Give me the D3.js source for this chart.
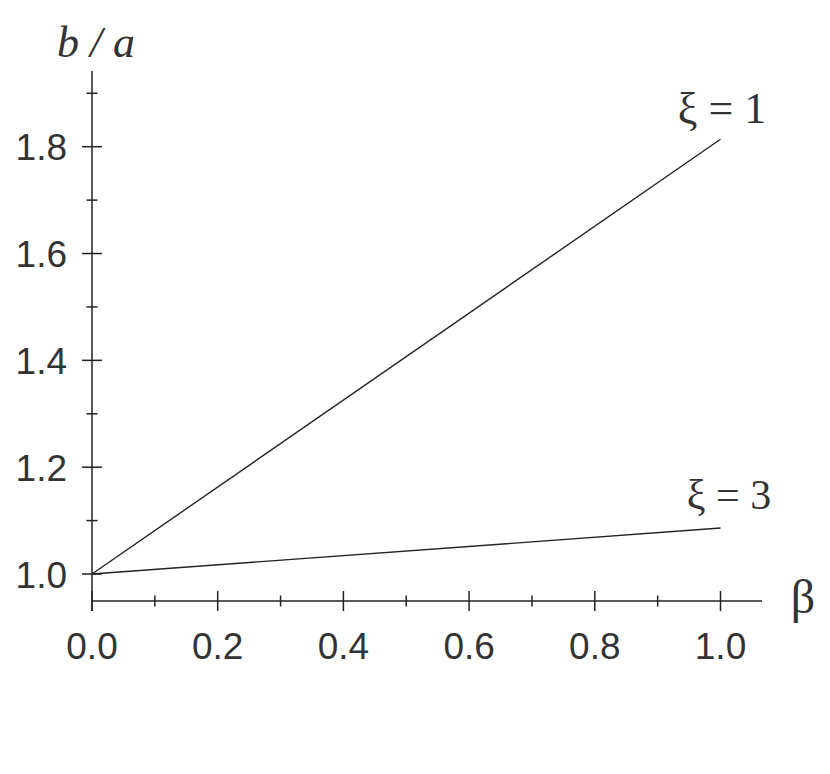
<!DOCTYPE html>
<html><head><meta charset="utf-8">
<script src="https://cdn.jsdelivr.net/npm/d3@7"></script>
<style>body{margin:0;background:#fff}</style>
</head><body>
<script>
const betaValues = [0.0, 1.0];
const seriesXi1 = [1.0, 1.814];
const seriesXi3 = [1.0, 1.086];
const seriesLabels = ["ξ = 1", "ξ = 3"];
const xTicks = [0.0, 0.2, 0.4, 0.6, 0.8, 1.0];
const xMinorTicks = [0.1, 0.3, 0.5, 0.7, 0.9];
const yTicks = [1.0, 1.2, 1.4, 1.6, 1.8];
const yMinorTicks = [1.1, 1.3, 1.5, 1.7, 1.9];

const W = 830, H = 774;
const svg = d3.select("body").append("svg").attr("width", W).attr("height", H);
const x = d3.scaleLinear().domain([0, 1]).range([92, 720.5]);
const y = d3.scaleLinear().domain([1.0, 1.8]).range([574, 146.7]);
const xAxisY = y(0.9494);
const xEnd = 762, yTop = 71;
const ink = "#222";
const txt = "#333";
const sans = "'Liberation Sans', Arial, sans-serif";
const serif = "'Liberation Serif', 'Times New Roman', serif";

// axes lines
svg.append("line").attr("x1", x(0)).attr("x2", xEnd).attr("y1", xAxisY).attr("y2", xAxisY)
  .attr("stroke", ink).attr("stroke-width", 1.5);
svg.append("line").attr("x1", x(0)).attr("x2", x(0)).attr("y1", yTop).attr("y2", xAxisY + 10)
  .attr("stroke", ink).attr("stroke-width", 1.5);

// x ticks
svg.selectAll(".xt").data(xTicks).enter().append("line")
  .attr("x1", d => x(d)).attr("x2", d => x(d)).attr("y1", xAxisY - 10).attr("y2", xAxisY + 10)
  .attr("stroke", ink).attr("stroke-width", 1.5);
svg.selectAll(".xm").data(xMinorTicks).enter().append("line")
  .attr("x1", d => x(d)).attr("x2", d => x(d)).attr("y1", xAxisY - 5.5).attr("y2", xAxisY + 5.5)
  .attr("stroke", ink).attr("stroke-width", 1.5);
svg.selectAll(".xl").data(xTicks).enter().append("text")
  .attr("x", d => x(d)).attr("y", 659).attr("text-anchor", "middle")
  .attr("font-family", sans).attr("font-size", 37).attr("fill", txt)
  .text(d => d3.format(".1f")(d));

// y ticks
svg.selectAll(".yt").data(yTicks).enter().append("line")
  .attr("x1", x(0) - 10).attr("x2", x(0) + 10).attr("y1", d => y(d)).attr("y2", d => y(d))
  .attr("stroke", ink).attr("stroke-width", 1.5);
svg.selectAll(".ym").data(yMinorTicks).enter().append("line")
  .attr("x1", x(0) - 5.5).attr("x2", x(0) + 5.5).attr("y1", d => y(d)).attr("y2", d => y(d))
  .attr("stroke", ink).attr("stroke-width", 1.5);
svg.selectAll(".yl").data(yTicks).enter().append("text")
  .attr("x", 67).attr("y", d => y(d) + 13.5).attr("text-anchor", "end")
  .attr("font-family", sans).attr("font-size", 37).attr("fill", txt)
  .text(d => d3.format(".1f")(d));

// lines
const line = d3.line().x(d => x(d[0])).y(d => y(d[1]));
[seriesXi1, seriesXi3].forEach(s => {
  svg.append("path").datum(betaValues.map((b, i) => [b, s[i]]))
    .attr("d", line).attr("fill", "none").attr("stroke", ink).attr("stroke-width", 1.4);
});

// series labels
svg.append("text").attr("x", 722).attr("y", 123).attr("text-anchor", "middle")
  .attr("font-family", serif).attr("font-size", 44).attr("fill", txt).text(seriesLabels[0]);
svg.append("text").attr("x", 729).attr("y", 509).attr("text-anchor", "middle")
  .attr("font-family", serif).attr("font-size", 42).attr("fill", txt).text(seriesLabels[1]);

// axis titles
svg.append("text").attr("x", 803).attr("y", 613).attr("text-anchor", "middle")
  .attr("font-family", serif).attr("font-size", 48).attr("fill", txt).text("β");
svg.append("text").attr("x", 96).attr("y", 57).attr("text-anchor", "middle")
  .attr("font-family", serif).attr("font-style", "italic").attr("font-size", 44).attr("fill", txt).text("b / a");
</script>
</body></html>
